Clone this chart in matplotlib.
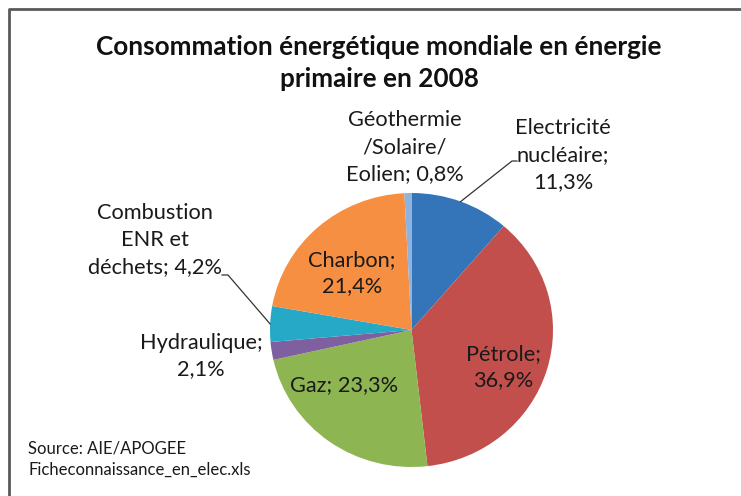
import matplotlib
matplotlib.use("Agg")
import matplotlib.pyplot as plt
import numpy as np

# ---- data ----
categories = ["Electricité\nnucléaire;\n11,3%", "Pétrole;\n36,9%", "Gaz; 23,3%",
              "Hydraulique;\n2,1%", "Combustion\nENR et\ndéchets; 4,2%",
              "Charbon;\n21,4%", "Géothermie\n/Solaire/\nEolien; 0,8%"]
values = [11.3, 36.9, 23.3, 2.1, 4.2, 21.4, 0.8]
colors = ["#3474B8", "#C24F4C", "#8DB552", "#7E5FA0", "#25A9C6", "#F78F43", "#8DB3DE"]
title = "Consommation énergétique mondiale en énergie\nprimaire en 2008"
source = ["Source: AIE/APOGEE", "Ficheconnaissance_en_elec.xls"]

W, H = 741, 496
plt.rcParams['font.family'] = ['Lato', 'DejaVu Sans']
fig = plt.figure(figsize=(W / 100, H / 100), dpi=100)
fig.patch.set_facecolor("white")

# pie geometry in pixels
cx, cy, rx, ry = 411.5, 330.0, 141.5, 137.0
ax = fig.add_axes([(cx - rx) / W, 1 - (cy + ry) / H, 2 * rx / W, 2 * ry / H])
wedges, _ = ax.pie(values, colors=colors, startangle=90, counterclock=False,
                   radius=1.0, wedgeprops=dict(linewidth=0))
ax.set_xlim(-1, 1)
ax.set_ylim(-1, 1)
ax.set_aspect('auto')
ax.axis('off')

# overlay axes in pixel coordinates
ov = fig.add_axes([0, 0, 1, 1], zorder=3)
ov.set_xlim(0, W)
ov.set_ylim(H, 0)
ov.axis('off')

# frame
ov.plot([9, 9, W + 5], [H + 5, 9, 9], color="#5a5a5a", lw=2, solid_capstyle='butt')

ov.text(379, 63, title, ha='center', va='center', fontsize=18.8, fontweight='bold',
        linespacing=1.42, color="#111111")

def edge_point(idx):
    cum = np.cumsum([0] + values)
    mid = (cum[idx] + cum[idx + 1]) / 2 / sum(values)
    ang = np.deg2rad(90 - mid * 360)
    return cx + rx * np.cos(ang), cy - ry * np.sin(ang)

label_pos = [(563, 155), (503, 367), (344, 385), (201, 356), (155, 240), (352, 273), (405, 147)]
for lab, (x, y) in zip(categories, label_pos):
    ov.text(x, y, lab, ha='center', va='center', fontsize=15.7, linespacing=1.42,
            color="#1a1a1a")

# leader lines
ex, ey = edge_point(0)
ov.plot([ex, 512, 517], [ey, 161, 161], color="#333333", lw=0.9)
ex, ey = edge_point(4)
ov.plot([ex, 228, 222], [ey, 275, 275], color="#333333", lw=0.9)

ov.text(28, 449, source[0], ha='left', va='center', fontsize=12, color="#1a1a1a")
ov.text(28, 470, source[1], ha='left', va='center', fontsize=12, color="#1a1a1a")

fig.savefig("out.png", dpi=100, facecolor="white")
